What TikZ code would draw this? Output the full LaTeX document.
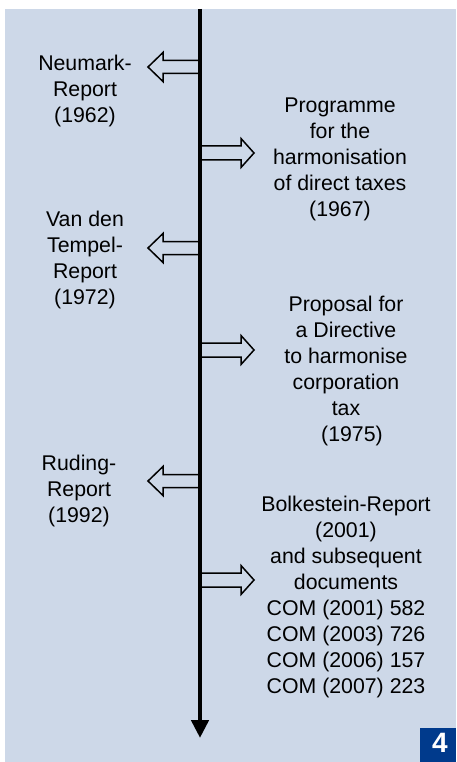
\documentclass[tikz,border=0pt]{standalone}
\usepackage{fontspec}
\setmainfont{Liberation Sans}
\usetikzlibrary{arrows.meta}
\definecolor{panelbg}{RGB}{205,216,232}
\definecolor{badgeblue}{RGB}{0,58,140}
\tikzset{
  lbl/.style={align=center, inner sep=0pt, font=\fontsize{21.3}{26}\selectfont},
  blockarr/.style={draw=black, line width=1.5pt, fill=panelbg, line join=miter},
  leftarr/.pic={\path[blockarr] (0,-6.5)--(-36,-6.5)--(-36,-14.5)--(-51,0)--(-36,14.5)--(-36,6.5)--(0,6.5)--cycle;},
  rightarr/.pic={\path[blockarr] (0,-7)--(40,-7)--(40,-14.5)--(53,0)--(40,14.5)--(40,7)--(0,7)--cycle;},
}
\begin{document}
\begin{tikzpicture}[x=1pt,y=-1pt]
\useasboundingbox (0,0) rectangle (456,762);
\fill[panelbg] (5,9) rectangle (456,762);

% block arrows
\pic at (199,67) {leftarr};
\pic at (201,153) {rightarr};
\pic at (199,248) {leftarr};
\pic at (201,350) {rightarr};
\pic at (199,481) {leftarr};
\pic at (201,580) {rightarr};

% timeline
\coordinate (tstart) at (200,9);
\coordinate (tend) at (200,738);
\draw[line width=4.5pt, -{Triangle[width=17pt,length=18pt]}] (tstart) -- (tend);

% labels
\node[lbl] (neumark) at (85,91) {Neumark-\\Report\\(1962)};
\node[lbl] (prog) at (340,159) {Programme\\for the\\harmonisation\\of direct taxes\\(1967)};
\node[lbl] (tempel) at (85,260) {Van den\\Tempel-\\Report\\(1972)};
\node[lbl] (prop) at (346,371) {Proposal for\\a Directive\\to harmonise\\corporation\\tax\\\hspace*{12pt}(1975)};
\node[lbl] (ruding) at (79,491) {Ruding-\\Report\\(1992)};
\node[lbl] (bolk) at (346,597) {Bolkestein-Report\\(2001)\\and subsequent\\documents\\COM (2001) 582\\COM (2003) 726\\COM (2006) 157\\COM (2007) 223};

% badge
\fill[badgeblue] (420,728) rectangle (456,762);
\node[font=\fontsize{28}{28}\selectfont\bfseries, text=white, inner sep=0pt] (badge) at (440,743) {4};
\end{tikzpicture}
\end{document}
